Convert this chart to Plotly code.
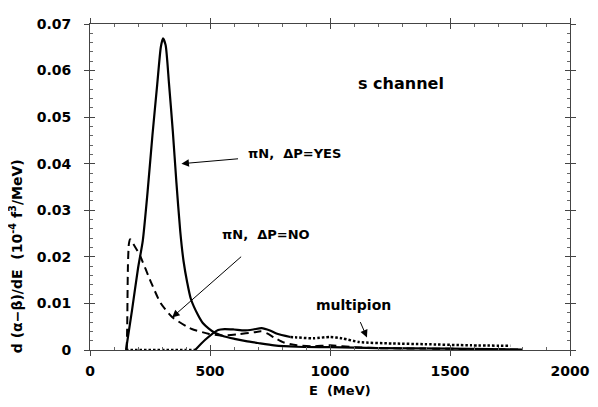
import plotly.graph_objects as go

# pi N, Delta P = YES (solid)
E_yes = [150, 175, 200, 220, 240, 260, 280, 295, 304, 315, 329, 345, 360, 376, 390, 405,
         420, 450, 470, 495, 520, 560, 602, 650, 700, 767, 862, 1000, 1200, 1500, 1800]
y_yes = [0, 0.0085, 0.0175, 0.0235, 0.034, 0.046, 0.057, 0.065, 0.0669, 0.0655, 0.0573,
         0.047, 0.036, 0.0255, 0.019, 0.0145, 0.011, 0.0075, 0.0058, 0.0046, 0.0037, 0.0029,
         0.0024, 0.0019, 0.0015, 0.0010, 0.0007, 0.0006, 0.0004, 0.0003, 0.0001]

# pi N, Delta P = NO (dashed)
E_no = [153, 155, 158, 162, 167, 185, 208, 253, 294, 342, 404, 424, 493, 547, 616, 684,
        713, 740, 767, 808, 862, 931, 1000, 1100, 1200, 1400, 1600, 1800]
y_no = [0, 0.005, 0.018, 0.0228, 0.0238, 0.0224, 0.0203, 0.0147, 0.0101, 0.0071, 0.0050,
        0.0045, 0.0035, 0.0031, 0.0034, 0.0038, 0.0040, 0.0035, 0.0027, 0.0016, 0.0010,
        0.0008, 0.0010, 0.0006, 0.0004, 0.0003, 0.0002, 0.0001]

# multipion: zero part (dotted), solid part, dotted tail
E_mp0 = [150, 440]
y_mp0 = [0, 0]
E_mp1 = [438, 480, 534, 561, 600, 643, 680, 715, 750, 780, 835]
y_mp1 = [0, 0.0022, 0.0043, 0.0045, 0.0044, 0.0042, 0.0044, 0.0047, 0.0042, 0.0035, 0.0028]
E_mp2 = [835, 862, 931, 1000, 1050, 1122, 1259, 1396, 1588, 1752]
y_mp2 = [0.0028, 0.0027, 0.0025, 0.0028, 0.0025, 0.0017, 0.0014, 0.00125, 0.0010, 0.0009]

x_ticks = [0, 500, 1000, 1500, 2000]
y_ticks = [0, 0.01, 0.02, 0.03, 0.04, 0.05, 0.06, 0.07]
y_ticktext = ["0", "0.01", "0.02", "0.03", "0.04", "0.05", "0.06", "0.07"]

FONT = "DejaVu Sans"

fig = go.Figure()
fig.add_trace(go.Scatter(x=E_yes, y=y_yes, mode="lines", line=dict(color="black", width=2.2, shape="spline", smoothing=0.6)))
fig.add_trace(go.Scatter(x=E_no, y=y_no, mode="lines", line=dict(color="black", width=2, dash="8px,5px", shape="spline", smoothing=0.6)))
fig.add_trace(go.Scatter(x=E_mp0, y=y_mp0, mode="lines", line=dict(color="black", width=2.5, dash="2.5px,2px")))
fig.add_trace(go.Scatter(x=E_mp1, y=y_mp1, mode="lines", line=dict(color="black", width=2.2, shape="spline", smoothing=0.6)))
fig.add_trace(go.Scatter(x=E_mp2, y=y_mp2, mode="lines", line=dict(color="black", width=2.5, dash="2.5px,2px", shape="spline", smoothing=0.6)))
# invisible trace to establish overlay axes (crossing major ticks)
fig.add_trace(go.Scatter(x=[0], y=[0], xaxis="x2", yaxis="y2", mode="markers",
                         marker=dict(opacity=0), hoverinfo="skip"))

axis_common = dict(showgrid=False, zeroline=False, showline=True, linecolor="#444", linewidth=1)
tick_font = dict(family=FONT, size=14, weight="bold", color="black")

fig.update_layout(
    width=590, height=399,
    margin=dict(l=82, r=21, t=8, b=57),
    plot_bgcolor="white", paper_bgcolor="white",
    showlegend=False,
    font=dict(family=FONT, color="black", size=13, weight="bold"),
    xaxis=dict(range=[0, 2000], tickvals=x_ticks, ticks="inside", ticklen=5, tickcolor="#444",
               mirror="allticks", ticklabelstandoff=8,
               minor=dict(ticks="inside", dtick=100, ticklen=3, tickcolor="#666"),
               tickfont=tick_font, **axis_common),
    yaxis=dict(range=[0, 0.07], tickvals=y_ticks, ticktext=y_ticktext, ticks="inside", ticklen=5,
               tickcolor="#444", mirror="allticks", ticklabelstandoff=15,
               minor=dict(ticks="inside", dtick=0.002, ticklen=3, tickcolor="#666"),
               tickfont=tick_font, **axis_common),
    xaxis2=dict(range=[0, 2000], overlaying="x", anchor="y2", side="bottom", tickvals=x_ticks,
                ticks="outside", ticklen=5, tickcolor="#444", mirror="ticks", showticklabels=False,
                showgrid=False, zeroline=False, showline=False),
    yaxis2=dict(range=[0, 0.07], overlaying="y", anchor="x2", side="left", tickvals=y_ticks,
                ticks="outside", ticklen=5, tickcolor="#444", mirror="ticks", showticklabels=False,
                showgrid=False, zeroline=False, showline=False),
)

ann_font = dict(family=FONT, size=13, color="black", weight="bold")
arrow_kw = dict(showarrow=True, arrowhead=2, arrowsize=1.5, arrowwidth=1, arrowcolor="black",
                axref="x", ayref="y", font=ann_font)

fig.add_annotation(x=1295, y=0.0572, text="s channel", showarrow=False,
                   xanchor="center", yanchor="middle",
                   font=dict(family=FONT, size=16, color="black", weight="bold"))
fig.add_annotation(x=381, y=0.0400, ax=850, ay=0.0421, text="πN,  ΔP=YES",
                   startstandoff=8, **arrow_kw)
fig.add_annotation(x=342, y=0.0070, ax=735, ay=0.0248, text="πN,  ΔP=NO",
                   startstandoff=20, **arrow_kw)
fig.add_annotation(x=1154, y=0.0027, ax=1096, ay=0.0096, text="multipion",
                   startstandoff=8, **dict(arrow_kw, font=dict(ann_font, size=14)))

fig.add_annotation(xref="paper", yref="paper", x=0.52, y=-0.125, text="E  (MeV)",
                   xanchor="center", yanchor="middle", showarrow=False, font=ann_font)
fig.add_annotation(xref="paper", yref="paper", x=-0.154, y=0.288, textangle=-90,
                   xanchor="center", yanchor="middle",
                   text="d (α−β)/dE  (10<sup>-4</sup> f<sup>3</sup>/MeV)",
                   showarrow=False, font=dict(ann_font, size=14))

fig.write_html("out.html")
